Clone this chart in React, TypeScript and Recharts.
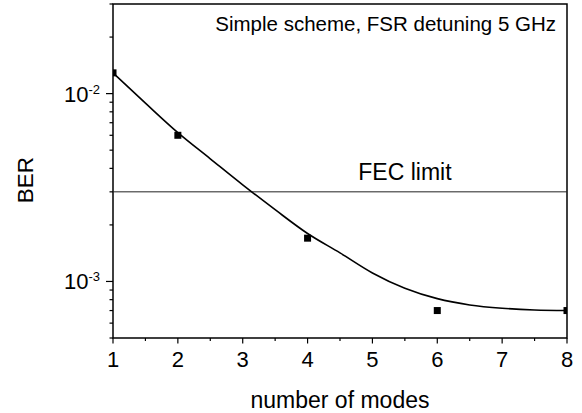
import {
  ComposedChart, Line, Scatter, XAxis, YAxis, ReferenceLine, ReferenceArea,
} from "recharts";

// fitted curve
const fitModes = [1, 1.5, 2, 2.5, 3, 3.5, 4, 4.5, 5, 5.5, 6, 6.5, 7, 7.5, 8];
const fitBer = [0.0129, 0.0089, 0.0062, 0.0045, 0.00327, 0.00241, 0.0018, 0.00142, 0.00111, 0.00092, 0.00081, 0.00075, 0.00072, 0.000705, 0.0007];

// measured points
const measuredModes = [1, 2, 4, 6, 8];
const measuredBer = [0.0129, 0.006, 0.0017, 0.0007, 0.0007];

const fecLimit = 0.003;

const xTicks = [1, 1.5, 2, 2.5, 3, 3.5, 4, 4.5, 5, 5.5, 6, 6.5, 7, 7.5, 8];
const yTicks = [
  0.0005, 0.0006, 0.0007, 0.0008, 0.0009, 0.001,
  0.002, 0.003, 0.004, 0.005, 0.006, 0.007, 0.008, 0.009, 0.01,
  0.02, 0.03,
];
const yMajor = [0.001, 0.01];

const fitData = fitModes.map((m, i) => ({ modes: m, ber: fitBer[i] }));
const pointData = measuredModes.map((m, i) => ({ modes: m, ber: measuredBer[i] }));

const FONT = '"Liberation Sans", Arial, sans-serif';

function XTick(props: any) {
  const { x, y, payload } = props;
  const major = Number.isInteger(payload.value);
  return (
    <g>
      <line x1={x} x2={x} y1={y} y2={y + (major ? 5.5 : 3)} stroke="#000" strokeWidth={1.2} />
      {major && (
        <text x={x} y={y + 29} textAnchor="middle" fontSize={22} fontFamily={FONT} fill="#000">
          {payload.value}
        </text>
      )}
    </g>
  );
}

function YTick(props: any) {
  const { x, y, payload } = props;
  const major = yMajor.includes(payload.value);
  const exp = Math.round(Math.log10(payload.value));
  return (
    <g>
      <line x1={x - (major ? 7 : 3.5)} x2={x} y1={y} y2={y} stroke="#000" strokeWidth={1.2} />
      {major && (
        <text x={x - 13} y={y + 8} textAnchor="end" fontFamily={FONT} fill="#000">
          <tspan fontSize={22}>10</tspan>
          <tspan fontSize={13} dy={-8}>{exp}</tspan>
        </text>
      )}
    </g>
  );
}

export default function App() {
  return (
    <div style={{ position: "absolute", left: 0, top: 0, background: "#fff" }}>
      <ComposedChart width={582} height={413} data={fitData} margin={{ top: 4, right: 15, left: 0, bottom: 0 }}>
        <XAxis
          dataKey="modes" type="number" domain={[1, 8]} ticks={xTicks} interval={0}
          allowDataOverflow tick={XTick} tickLine={false} axisLine={false}
          tickSize={0} tickMargin={0} height={75}
          label={(p: any) => (
            <text x={p.viewBox.x + p.viewBox.width / 2} y={p.viewBox.y + 70} textAnchor="middle"
              fontSize={23} fontFamily={FONT} fill="#000">number of modes</text>
          )}
        />
        <YAxis
          type="number" scale="log" domain={[0.0005, 0.03]} ticks={yTicks} interval={0}
          allowDataOverflow tick={YTick} tickLine={false} axisLine={false}
          tickSize={0} tickMargin={0} width={113}
          label={(p: any) => {
            const cx = p.viewBox.x + 33;
            const cy = p.viewBox.y + p.viewBox.height / 2 + 9;
            return (
              <text x={cx} y={cy} transform={`rotate(-90, ${cx}, ${cy})`} textAnchor="middle"
                fontSize={22.5} fontFamily={FONT} fill="#000">BER</text>
            );
          }}
        />
        <ReferenceArea
          x1={1} x2={8} y1={0.0005} y2={0.03} fill="none" stroke="#000" strokeWidth={1.5} fillOpacity={0}
          label={(p: any) => (
            <text x={p.viewBox.x + p.viewBox.width - 11} y={p.viewBox.y + 27} textAnchor="end"
              fontSize={20.5} fontFamily={FONT} fill="#000">Simple scheme, FSR detuning 5 GHz</text>
          )}
        />
        <ReferenceLine
          y={fecLimit} stroke="#222" strokeWidth={1}
          label={(p: any) => (
            <text x={p.viewBox.x + p.viewBox.width * 0.643} y={p.viewBox.y - 12} textAnchor="middle"
              fontSize={23} fontFamily={FONT} fill="#000">FEC limit</text>
          )}
        />
        <Line
          type="monotone" dataKey="ber" stroke="#000" strokeWidth={1.6} dot={false}
          isAnimationActive={false}
        />
        <Scatter
          data={pointData} dataKey="ber" fill="#000" isAnimationActive={false}
          shape={(p: any) => <rect x={p.cx - 3.5} y={p.cy - 3.5} width={7} height={7} fill="#000" />}
        />
      </ComposedChart>
    </div>
  );
}
